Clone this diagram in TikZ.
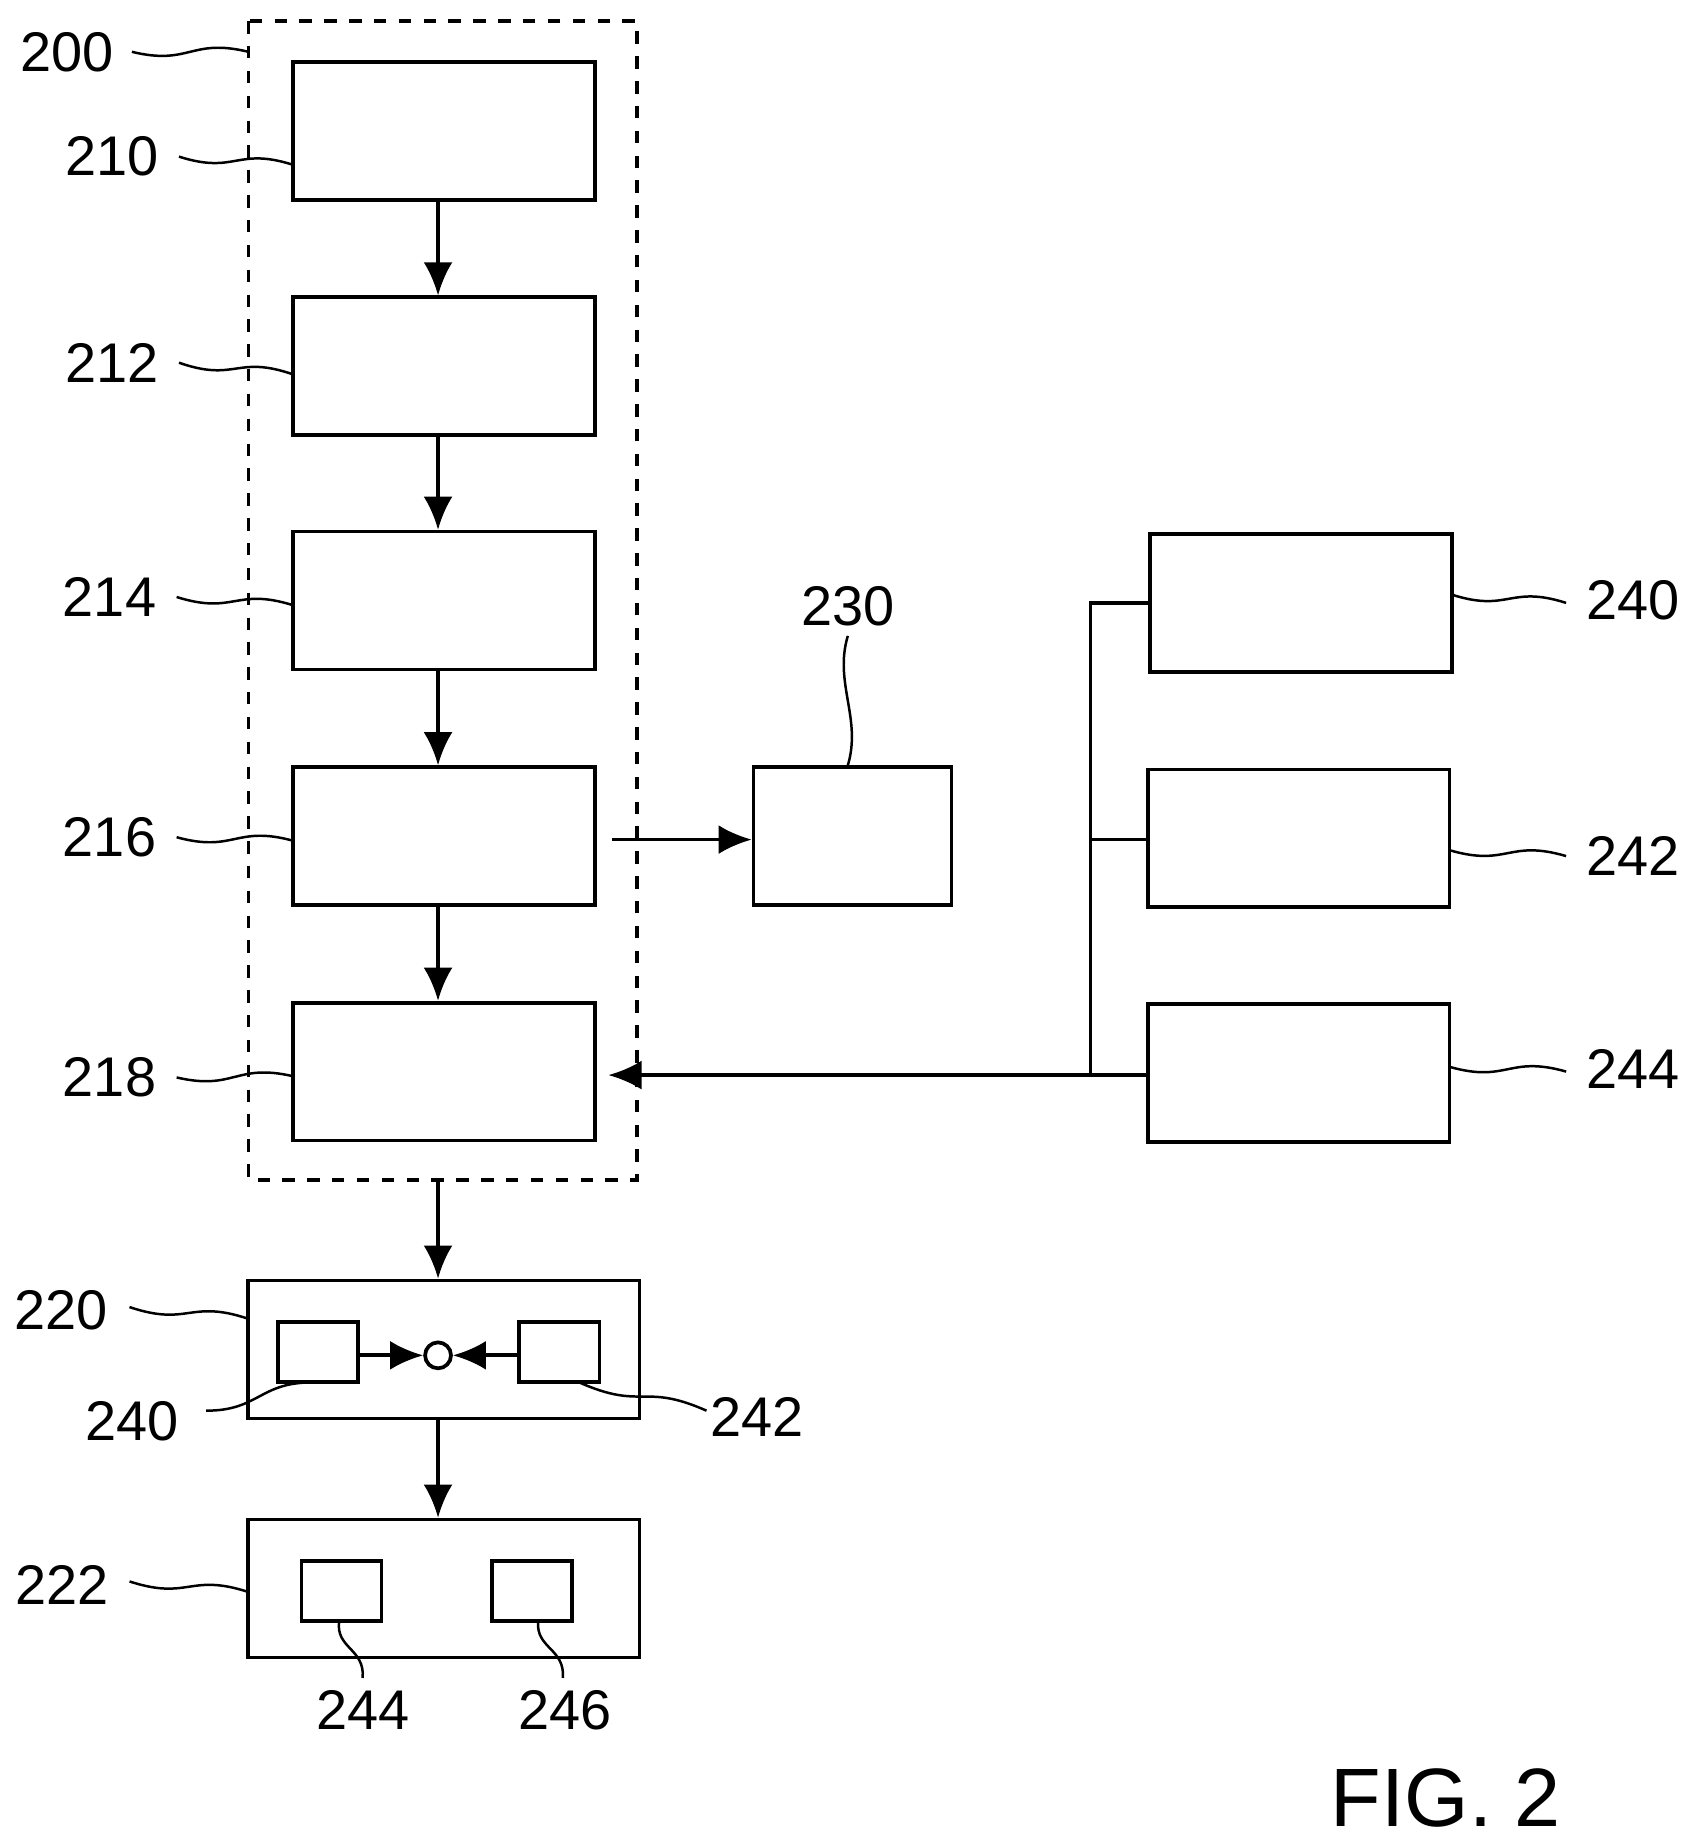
\documentclass[tikz,border=0pt]{standalone}
\usepackage{fontspec}
\setmainfont{Liberation Sans}
\usetikzlibrary{arrows.meta,calc}
\tikzset{
  blk/.style={draw,line width=0.9pt,minimum width=2.56cm,minimum height=1.17cm,inner sep=0pt},
  sblk/.style={draw,line width=0.9pt,minimum width=0.68cm,minimum height=0.51cm,inner sep=0pt},
  num/.style={font=\fontsize{13.5}{16}\selectfont,inner sep=0pt},
  arr/.style={line width=0.9pt,-{Latex[length=8pt,width=7pt]}},
  lead/.style={line width=0.6pt}
}
\newcommand{\wig}[2]{\draw[lead] (#1) .. controls ($(#1)!0.5!(#2)+(0,12)$) and ($(#1)!0.5!(#2)+(0,-12)$) .. (#2);}
\begin{document}
\begin{tikzpicture}[x=0.01cm,y=-0.01cm]
\useasboundingbox (0,0) rectangle (1440,1566);
% dashed frame
\draw[line width=0.9pt,dashed] (211,18) rectangle (541,1002);
\coordinate (fb) at (372,1002);
% main chain
\node[blk] (b210) at (377,111) {};
\node[blk] (b212) at (377,311) {};
\node[blk] (b214) at (377,510) {};
\node[blk] (b216) at (377,710) {};
\node[blk] (b218) at (377,910) {};
\foreach \a/\b in {b210/b212,b212/b214,b214/b216,b216/b218}
  \draw[arr] ($(\a.south)+(-5,0)$) -- ($(\b.north)+(-5,0)$);
% side boxes
\node[blk,minimum width=1.68cm] (b230) at (724,710) {};
\node[blk] (b240) at (1105,512) {};
\node[blk] (b242) at (1103,712) {};
\node[blk] (b244) at (1103,911) {};
\coordinate (bt) at (926,512);
\coordinate (bm) at (926,713);
\coordinate (bb) at (926,913);
\draw[arr] ($(b216.east)+(13,3)$) -- (b230.west|-0,713);
\draw[line width=0.9pt] (b240.west) -- (bt) -- (bb);
\draw[line width=0.9pt] (bm) -- (b242.west|-bm);
\draw[arr] (b244.west|-bb) -- ($(b218.east)+(10,3)$);
% lower boxes
\node[draw,line width=0.9pt,minimum width=3.32cm,minimum height=1.17cm,inner sep=0pt] (b220) at (377,1146) {};
\node[draw,line width=0.9pt,minimum width=3.32cm,minimum height=1.17cm,inner sep=0pt] (b222) at (377,1349) {};
\draw[arr] (fb) -- (b220.north-|fb);
\draw[arr] (b220.south-|fb) -- (b222.north-|fb);
\node[sblk] (s240) at (270,1148) {};
\node[sblk] (s242) at (475,1148) {};
\node[draw,circle,line width=0.9pt,minimum size=0.22cm,inner sep=0pt] (ring) at (372,1151) {};
\draw[arr] (s240.east|-ring) -- (ring);
\draw[arr] (s242.west|-ring) -- (ring);
\node[sblk] (s244) at (290,1351) {};
\node[sblk] (s246) at (452,1351) {};
% reference numerals
\node[num] (l200) at (57,44) {200};
\node[num] (l210) at (95,133) {210};
\node[num] (l212) at (95,308) {212};
\node[num] (l214) at (93,507) {214};
\node[num] (l216) at (93,711) {216};
\node[num] (l218) at (93,915) {218};
\node[num] (l220) at (52,1113) {220};
\node[num] (l222) at (53,1346) {222};
\node[num] (l230) at (720,515) {230};
\node[num] (l240) at (1387,510) {240};
\node[num] (l242) at (1387,727) {242};
\node[num] (l244) at (1387,908) {244};
\node[num] (m240) at (112,1207) {240};
\node[num] (m242) at (643,1203) {242};
\node[num] (m244) at (308,1452) {244};
\node[num] (m246) at (480,1452) {246};
\node[font=\fontsize{20}{24}\selectfont,inner sep=0pt] (fig) at (1228,1527) {FIG. 2};
% leaders
\wig{112,44}{211,44}
\wig{152,133}{249,140}
\wig{152,308}{249,318}
\wig{150,507}{249,514}
\wig{150,711}{249,714}
\wig{150,915}{249,914}
\wig{110,1110}{211,1120}
\wig{110,1343}{211,1352}
\wig{1233,505}{1330,512}
\wig{1231,722}{1330,727}
\wig{1231,906}{1330,910}
\wig{175,1198}{265,1174}
\wig{492,1174}{600,1198}
\draw[lead] (720,540) .. controls (708,580) and (732,610) .. (720,650);
\draw[lead] (288,1377) .. controls (285,1400) and (310,1400) .. (308,1425);
\draw[lead] (457,1377) .. controls (455,1400) and (480,1400) .. (478,1425);
\end{tikzpicture}
\end{document}
